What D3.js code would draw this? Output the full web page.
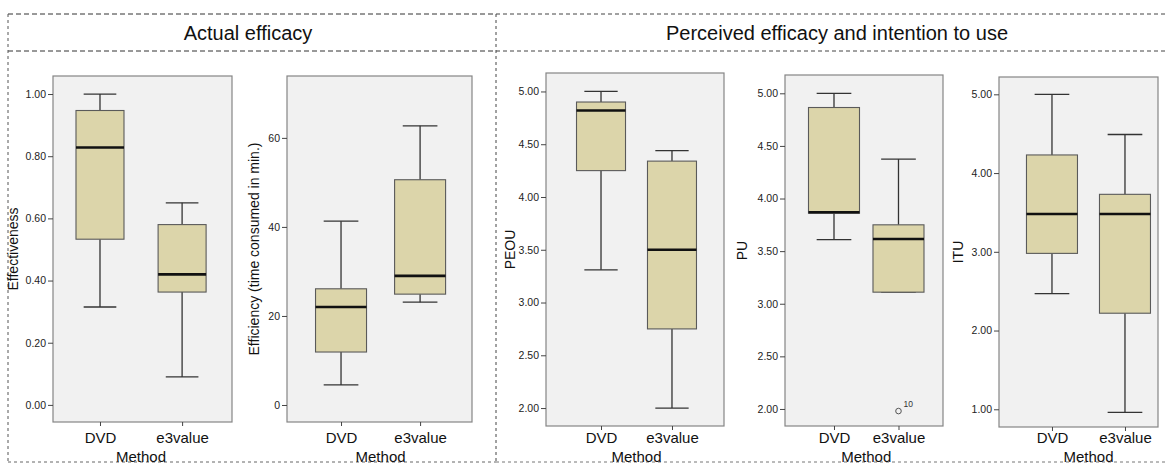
<!DOCTYPE html>
<html>
<head>
<meta charset="utf-8">
<script src="https://cdn.jsdelivr.net/npm/d3@7"></script>
<style>
  html, body { margin: 0; padding: 0; background: #ffffff; }
  svg { display: block; font-family: "Liberation Sans", Arial, Helvetica, sans-serif; }
</style>
</head>
<body>
<svg id="chart" width="1167" height="464"></svg>
<script>
// ---------------- DATA ----------------
// Each box: [lower whisker, Q1, median, Q3, upper whisker]
const categories = ["DVD", "e3value"];
const sectionTitles = ["Actual efficacy", "Perceived efficacy and intention to use"];
const xAxisTitle = "Method";

const effectivenessDVD = [0.315, 0.533, 0.828, 0.947, 1.00];
const effectivenessE3 = [0.09, 0.363, 0.42, 0.58, 0.65];
const effectivenessTicks = [0, 0.2, 0.4, 0.6, 0.8, 1.0];

const efficiencyDVD = [4.5, 11.9, 22.0, 26.1, 41.3];
const efficiencyE3 = [23.1, 24.9, 29.0, 50.6, 62.7];
const efficiencyTicks = [0, 20, 40, 60];

const peouDVD = [3.31, 4.25, 4.82, 4.90, 5.00];
const peouE3 = [2.00, 2.75, 3.50, 4.34, 4.44];
const peouTicks = [2.0, 2.5, 3.0, 3.5, 4.0, 4.5, 5.0];

const puDVD = [3.61, 3.86, 3.87, 4.865, 5.00];
const puE3 = [3.11, 3.11, 3.615, 3.75, 4.375];
const puTicks = [2.0, 2.5, 3.0, 3.5, 4.0, 4.5, 5.0];
const puOutliers = [{ category: "e3value", value: 1.98, label: "10" }];

const ituDVD = [2.47, 2.98, 3.48, 4.23, 5.00];
const ituE3 = [0.96, 2.22, 3.48, 3.73, 4.49];
const ituTicks = [1, 2, 3, 4, 5];

// ---------------- LAYOUT ----------------
const panels = [
  { label: "Effectiveness", boxes: [effectivenessDVD, effectivenessE3], ticks: effectivenessTicks, fmt: ".2f",
    domain: [-0.055, 1.058], frame: { l: 53, r: 232, t: 76, b: 422 }, pad: 0.59, align: 0.485, boxW: 48, labelX: 13, outliers: [] },
  { label: "Efficiency (time consumed in min.)", boxes: [efficiencyDVD, efficiencyE3], ticks: efficiencyTicks, fmt: "d",
    domain: [-3.82, 73.9], frame: { l: 287, r: 472, t: 76, b: 422 }, pad: 0.67, align: 0.51, boxW: 51, labelX: 254, outliers: [] },
  { label: "PEOU", boxes: [peouDVD, peouE3], ticks: peouTicks, fmt: ".2f",
    domain: [1.83, 5.175], frame: { l: 546, r: 724, t: 73, b: 426 }, pad: 0.754, align: 0.514, boxW: 49, labelX: 510, outliers: [] },
  { label: "PU", boxes: [puDVD, puE3], ticks: puTicks, fmt: ".2f",
    domain: [1.838, 5.174], frame: { l: 785, r: 943, t: 75, b: 426 }, pad: 0.725, align: 0.524, boxW: 51, labelX: 742, outliers: puOutliers },
  { label: "ITU", boxes: [ituDVD, ituE3], ticks: ituTicks, fmt: ".2f",
    domain: [0.775, 5.22], frame: { l: 999, r: 1158, t: 77, b: 427 }, pad: 0.589, align: 0.616, boxW: 51, labelX: 958, outliers: [] }
];

const svg = d3.select("#chart");
svg.append("rect").attr("width", 1167).attr("height", 464).attr("fill", "#ffffff");

// ---------------- DASHED SECTION FRAMES ----------------
const dashG = svg.append("g").attr("fill", "none").attr("stroke-width", 1);
const dashLines = [
  { x1: 8, y1: 14, x2: 496, y2: 14, c: "#333", d: "5,3" },
  { x1: 8, y1: 51, x2: 496, y2: 51, c: "#333", d: "5,3" },
  { x1: 8, y1: 14, x2: 8, y2: 464, c: "#555", d: "3,3" },
  { x1: 8, y1: 462, x2: 496, y2: 462, c: "#666", d: "3,3" },
  { x1: 496, y1: 14, x2: 1167, y2: 14, c: "#444", d: "4,3" },
  { x1: 496, y1: 51, x2: 1167, y2: 51, c: "#444", d: "4,3" },
  { x1: 496, y1: 14, x2: 496, y2: 464, c: "#444", d: "3,3" },
  { x1: 496, y1: 462, x2: 1167, y2: 462, c: "#777", d: "3,3" }
];
dashG.selectAll("line").data(dashLines).join("line")
  .attr("x1", d => d.x1).attr("y1", d => d.y1).attr("x2", d => d.x2).attr("y2", d => d.y2)
  .attr("stroke", d => d.c).attr("stroke-dasharray", d => d.d);

const titlePos = [248, 837];
svg.selectAll("text.section").data(sectionTitles).join("text")
  .attr("class", "section")
  .attr("x", (d, i) => titlePos[i]).attr("y", 40)
  .attr("text-anchor", "middle").attr("font-size", 20).attr("fill", "#111")
  .text(d => d);

// ---------------- PANELS ----------------
panels.forEach(p => {
  const g = svg.append("g");
  const f = p.frame;
  const y = d3.scaleLinear().domain(p.domain).range([f.b, f.t]);
  const x = d3.scalePoint().domain(categories).range([f.l, f.r]).padding(p.pad).align(p.align);

  g.append("rect")
    .attr("x", f.l).attr("y", f.t).attr("width", f.r - f.l).attr("height", f.b - f.t)
    .attr("fill", "#f1f1f1").attr("stroke", "#858585").attr("stroke-width", 1.2);

  // Y axis
  const yAxis = g.append("g").attr("transform", `translate(${f.l},0)`)
    .call(d3.axisLeft(y).tickValues(p.ticks).tickSize(5).tickPadding(2).tickFormat(d3.format(p.fmt)));
  yAxis.select(".domain").remove();
  yAxis.selectAll(".tick line").attr("stroke", "#444");
  yAxis.selectAll(".tick text").attr("font-size", 10.5).attr("fill", "#222")
    .attr("font-family", "\"Liberation Sans\", Arial, sans-serif");

  // X axis
  const labelBaseline = 443;
  const xAxis = g.append("g").attr("transform", `translate(0,${f.b})`)
    .call(d3.axisBottom(x).tickSize(4).tickPadding(labelBaseline - f.b - 4 - 10.65));
  xAxis.select(".domain").remove();
  xAxis.selectAll(".tick line").attr("stroke", "#444");
  xAxis.selectAll(".tick text").attr("font-size", 15).attr("fill", "#111")
    .attr("font-family", "\"Liberation Sans\", Arial, sans-serif");

  g.append("text")
    .attr("x", (x(categories[0]) + x(categories[1])) / 2).attr("y", 462)
    .attr("text-anchor", "middle").attr("font-size", 15).attr("fill", "#111")
    .text(xAxisTitle);

  g.append("text")
    .attr("transform", `translate(${p.labelX},${(f.t + f.b) / 2}) rotate(-90)`)
    .attr("dy", "0.35em")
    .attr("text-anchor", "middle").attr("font-size", 14).attr("fill", "#111")
    .text(p.label);

  // Boxes
  p.boxes.forEach((b, i) => {
    const cx = x(categories[i]);
    const w = p.boxW;
    const cap = w * 0.34;
    const [lo, q1, med, q3, hi] = b;
    const bg = g.append("g");
    bg.append("line").attr("x1", cx).attr("x2", cx).attr("y1", y(hi)).attr("y2", y(q3))
      .attr("stroke", "#333").attr("stroke-width", 1.3);
    bg.append("line").attr("x1", cx).attr("x2", cx).attr("y1", y(q1)).attr("y2", y(lo))
      .attr("stroke", "#333").attr("stroke-width", 1.3);
    bg.append("line").attr("x1", cx - cap).attr("x2", cx + cap).attr("y1", y(hi)).attr("y2", y(hi))
      .attr("stroke", "#333").attr("stroke-width", 1.3);
    bg.append("line").attr("x1", cx - cap).attr("x2", cx + cap).attr("y1", y(lo)).attr("y2", y(lo))
      .attr("stroke", "#333").attr("stroke-width", 1.3);
    bg.append("rect").attr("x", cx - w / 2).attr("y", y(q3)).attr("width", w).attr("height", y(q1) - y(q3))
      .attr("fill", "#dcd5aa").attr("stroke", "#5a5a5a").attr("stroke-width", 1.1);
    bg.append("line").attr("x1", cx - w / 2).attr("x2", cx + w / 2).attr("y1", y(med)).attr("y2", y(med))
      .attr("stroke", "#111").attr("stroke-width", 2.6);
  });

  // Outliers
  p.outliers.forEach(o => {
    const cx = x(o.category);
    g.append("circle").attr("cx", cx).attr("cy", y(o.value)).attr("r", 2.8)
      .attr("fill", "none").attr("stroke", "#555").attr("stroke-width", 1);
    g.append("text").attr("x", cx + 5).attr("y", y(o.value) - 4)
      .attr("font-size", 8.5).attr("fill", "#333").text(o.label);
  });
});
</script>
</body>
</html>
